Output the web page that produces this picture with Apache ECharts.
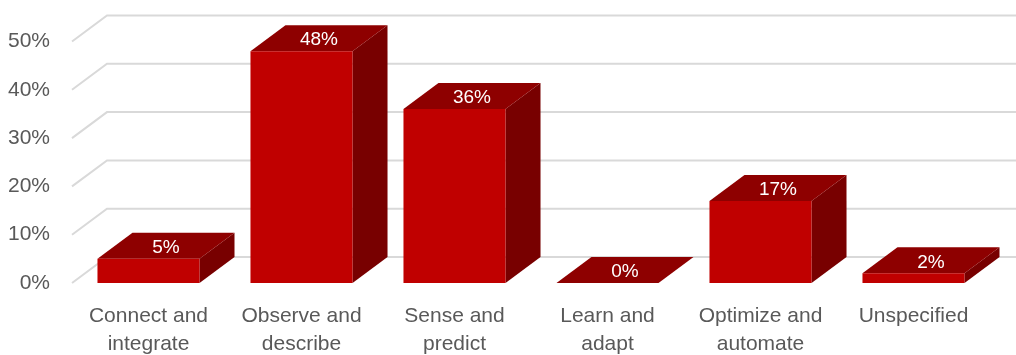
<!DOCTYPE html>
<html>
<head>
<meta charset="utf-8">
<script src="https://cdn.jsdelivr.net/npm/echarts@6/dist/echarts.min.js"></script>
<style>
html,body{margin:0;padding:0;background:#fff;}
#chart{width:1016px;height:355px;}
</style>
</head>
<body>
<div id="chart"></div>
<script>
const categories = ['Connect and\nintegrate', 'Observe and\ndescribe', 'Sense and\npredict', 'Learn and\nadapt', 'Optimize and\nautomate', 'Unspecified'];
const values = [0.05, 0.48, 0.36, 0.00, 0.17, 0.02];
const yTicks = [0, 0.1, 0.2, 0.3, 0.4, 0.5];

const DX = 35, DY = -26;
const FRONT = '#C00000', TOP = '#8E0000', SIDE = '#780000';
const FONT = 'Liberation Sans';

const chart = echarts.init(document.getElementById('chart'), null, {renderer: 'canvas'});

function renderGrid(params, api) {
  const y = api.coord([0, api.value(1)])[1];
  const cs = params.coordSys;
  return {
    type: 'polyline',
    shape: { points: [[cs.x, y], [cs.x + DX, y + DY], [cs.x + cs.width + DX + 20, y + DY]] },
    style: { stroke: '#d9d9d9', lineWidth: 2, fill: null }
  };
}

function renderBar(params, api) {
  const top = api.coord([api.value(0), api.value(1)]);
  const base = api.coord([api.value(0), 0]);
  const bw = api.size([1, 0])[0] * 0.667;
  const xl = top[0] - bw / 2, xr = top[0] + bw / 2;
  const yt = top[1], yb = base[1];
  const label = Math.round(api.value(1) * 100) + '%';
  return {
    type: 'group',
    children: [
      { type: 'polygon', shape: { points: [[xr, yb], [xr + DX, yb + DY], [xr + DX, yt + DY], [xr, yt]] }, style: { fill: SIDE } },
      { type: 'polygon', shape: { points: [[xl, yt], [xr, yt], [xr + DX, yt + DY], [xl + DX, yt + DY]] }, style: { fill: TOP } },
      { type: 'rect', shape: { x: xl, y: yt, width: bw, height: yb - yt }, style: { fill: FRONT } },
      { type: 'text', x: top[0] + DX / 2, y: yt + DY / 2 + 2, style: { text: label, fill: '#fff', font: '19px "' + FONT + '"', align: 'center', verticalAlign: 'middle' } }
    ]
  };
}

chart.setOption({
  animation: false,
  backgroundColor: '#fff',
  grid: { left: 72, right: 26, top: 41.5, bottom: 72, outerBoundsMode: 'none', containLabel: false },
  xAxis: {
    type: 'category',
    data: categories,
    axisLine: { show: false },
    axisTick: { show: false },
    axisLabel: { interval: 0, color: '#595959', fontSize: 21, lineHeight: 28, margin: 19, fontFamily: FONT }
  },
  yAxis: {
    type: 'value',
    min: 0, max: 0.5, interval: 0.1,
    splitLine: { show: false },
    axisLine: { show: false },
    axisTick: { show: false },
    axisLabel: { color: '#595959', fontSize: 21, margin: 22, fontFamily: FONT, padding: [4, 0, 0, 0], formatter: v => Math.round(v * 100) + '%' }
  },
  series: [
    { type: 'custom', z: 1, silent: true, renderItem: renderGrid, encode: { x: 0, y: 1 }, data: yTicks.map(t => [0, t]) },
    { type: 'custom', z: 2, renderItem: renderBar, encode: { x: 0, y: 1 }, data: values.map((v, i) => [i, v]) }
  ]
});
</script>
</body>
</html>
